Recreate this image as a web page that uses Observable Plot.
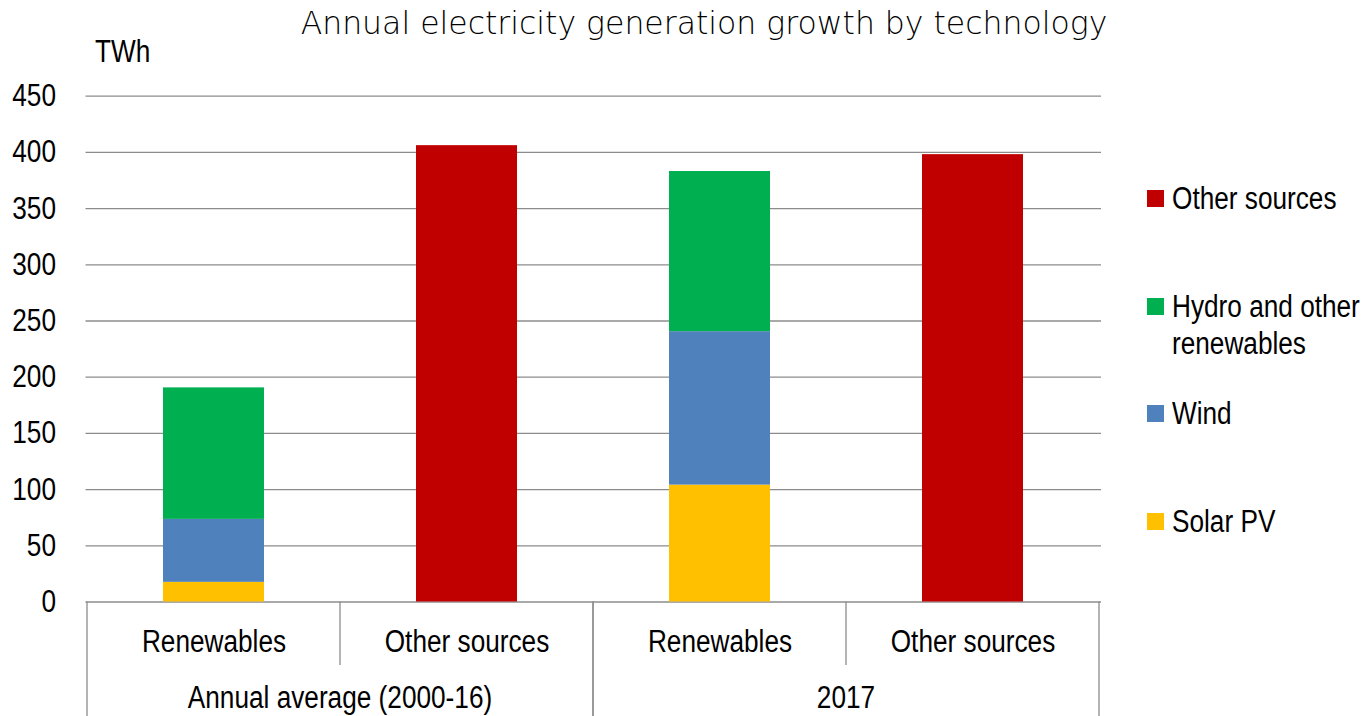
<!DOCTYPE html>
<html>
<head>
<meta charset="utf-8">
<script src="https://cdn.jsdelivr.net/npm/d3@7"></script>
<script src="https://cdn.jsdelivr.net/npm/@observablehq/plot@0.6"></script>
<style>
  body { margin: 0; background: #fff; }
  #chart { position: relative; width: 1364px; height: 716px; overflow: hidden;
           font-family: 'Liberation Sans', Arial, sans-serif; color: #000; }
  #chart svg { position: absolute; left: 0; top: 0; }
  #title { position: absolute; left: 0; width: 1408px; top: 3px; text-align: center; white-space: nowrap;
           font-family: 'DejaVu Sans', sans-serif; font-weight: 200; font-size: 31.5px; line-height: 40px; }
  #unit { position: absolute; left: 95px; top: 36px; font-size: 31px; line-height: 31px;
          transform: scaleX(0.845); transform-origin: left top; }
  #legend { position: absolute; left: 1147px; top: 180px; white-space: nowrap; }
  .item { height: 107.5px; display: flex; align-items: flex-start; }
  .swatch { width: 17px; height: 17px; margin-top: 10px; flex: none; }
  .label { margin-left: 8px; font-size: 31px; line-height: 37px;
           transform: scaleX(0.845); transform-origin: left top; }
</style>
</head>
<body>
<div id="chart">
  <div id="title">Annual electricity generation growth by technology</div>
  <div id="unit">TWh</div>
  <div id="legend"></div>
</div>
<script>
// Two periods, each split into renewables and other sources (TWh of growth)
const groups = ["Annual average (2000-16)", "2017"];
const categories = ["Renewables", "Other sources"];
const technologies = ["Solar PV", "Wind", "Hydro and other renewables", "Other sources"];
const techColors = ["#FFC000", "#4F81BD", "#00B050", "#C00000"];
const legendOrder = ["Other sources", "Hydro and other renewables", "Wind", "Solar PV"];
const legendLines = {"Hydro and other renewables": ["Hydro and other", "renewables"]};

const solarPV = [17.5, 104];
const wind = [56, 136.5];
const hydroOther = [117, 142.5];
const otherSources = [406, 398];
const yTicks = [0, 50, 100, 150, 200, 250, 300, 350, 400, 450];

// Long table: renewables are stacked solar → wind → hydro
const rows = [];
groups.forEach((g, i) => {
  rows.push({key: g + "|" + categories[0], tech: technologies[0], value: solarPV[i]});
  rows.push({key: g + "|" + categories[0], tech: technologies[1], value: wind[i]});
  rows.push({key: g + "|" + categories[0], tech: technologies[2], value: hydroOther[i]});
  rows.push({key: g + "|" + categories[1], tech: technologies[3], value: otherSources[i]});
});
const keys = groups.flatMap(g => categories.map(c => g + "|" + c));

const gridColor = "#8c8c8c";
const fontSize = 31;
const narrow = 0.845; // horizontal squeeze for a narrow sans look

const plot = Plot.plot({
  width: 1364,
  height: 716,
  marginLeft: 85.5,
  marginRight: 263,
  marginTop: 95.7,
  marginBottom: 114.5,
  style: {background: "transparent", color: "#000", fontSize: fontSize + "px",
          fontFamily: "'Liberation Sans', Arial, sans-serif"},
  x: {domain: keys, paddingInner: 0.6, paddingOuter: 0.3, axis: null},
  y: {domain: [0, 450], axis: null},
  color: {domain: technologies, range: techColors},
  marks: [
    Plot.ruleY(yTicks, {stroke: gridColor, strokeWidth: 1.3}),
    Plot.barY(rows, {x: "key", y: "value", fill: "tech"}),
    Plot.axisY(yTicks, {tickSize: 0, tickPadding: 30, label: null, fontSize}),
    Plot.axisX({tickSize: 0, tickPadding: 28, label: null, fontSize,
                tickFormat: k => k.split("|")[1]})
  ]
});
document.getElementById("chart").appendChild(plot);

// Two-level category axis: dividers and period labels from the band scale
const xs = plot.scale("x");
const ys = plot.scale("y");
const center = k => xs.apply(k) + xs.bandwidth / 2;
const y0 = ys.apply(0);
const svg = d3.select(plot);
const frame = svg.append("g").attr("stroke", gridColor).attr("stroke-width", 1.3);
const bottom = 716;
groups.forEach(g => {
  const ks = keys.filter(k => k.startsWith(g + "|"));
  const left = center(ks[0]) - xs.step / 2;
  const right = center(ks[ks.length - 1]) + xs.step / 2;
  frame.append("line").attr("x1", left).attr("x2", left).attr("y1", y0).attr("y2", bottom);
  frame.append("line").attr("x1", right).attr("x2", right).attr("y1", y0).attr("y2", bottom);
  ks.slice(0, -1).forEach(k => {
    const mid = center(k) + xs.step / 2;
    frame.append("line").attr("x1", mid).attr("x2", mid).attr("y1", y0).attr("y2", y0 + 63.5);
  });
  svg.append("text")
    .attr("x", (left + right) / 2)
    .attr("y", y0 + 106.5)
    .attr("text-anchor", "middle")
    .attr("font-size", fontSize)
    .attr("fill", "#000")
    .text(g);
});

// Squeeze every SVG label horizontally
svg.selectAll("text").each(function () {
  const w = this.getComputedTextLength();
  this.setAttribute("textLength", w * narrow);
  this.setAttribute("lengthAdjust", "spacingAndGlyphs");
});

// Legend to the right of the plot
const legend = d3.select("#legend");
legendOrder.forEach(t => {
  const item = legend.append("div").attr("class", "item");
  item.append("div").attr("class", "swatch")
    .style("background", techColors[technologies.indexOf(t)]);
  const lab = item.append("div").attr("class", "label");
  (legendLines[t] || [t]).forEach(line => lab.append("div").text(line));
});
</script>
</body>
</html>
